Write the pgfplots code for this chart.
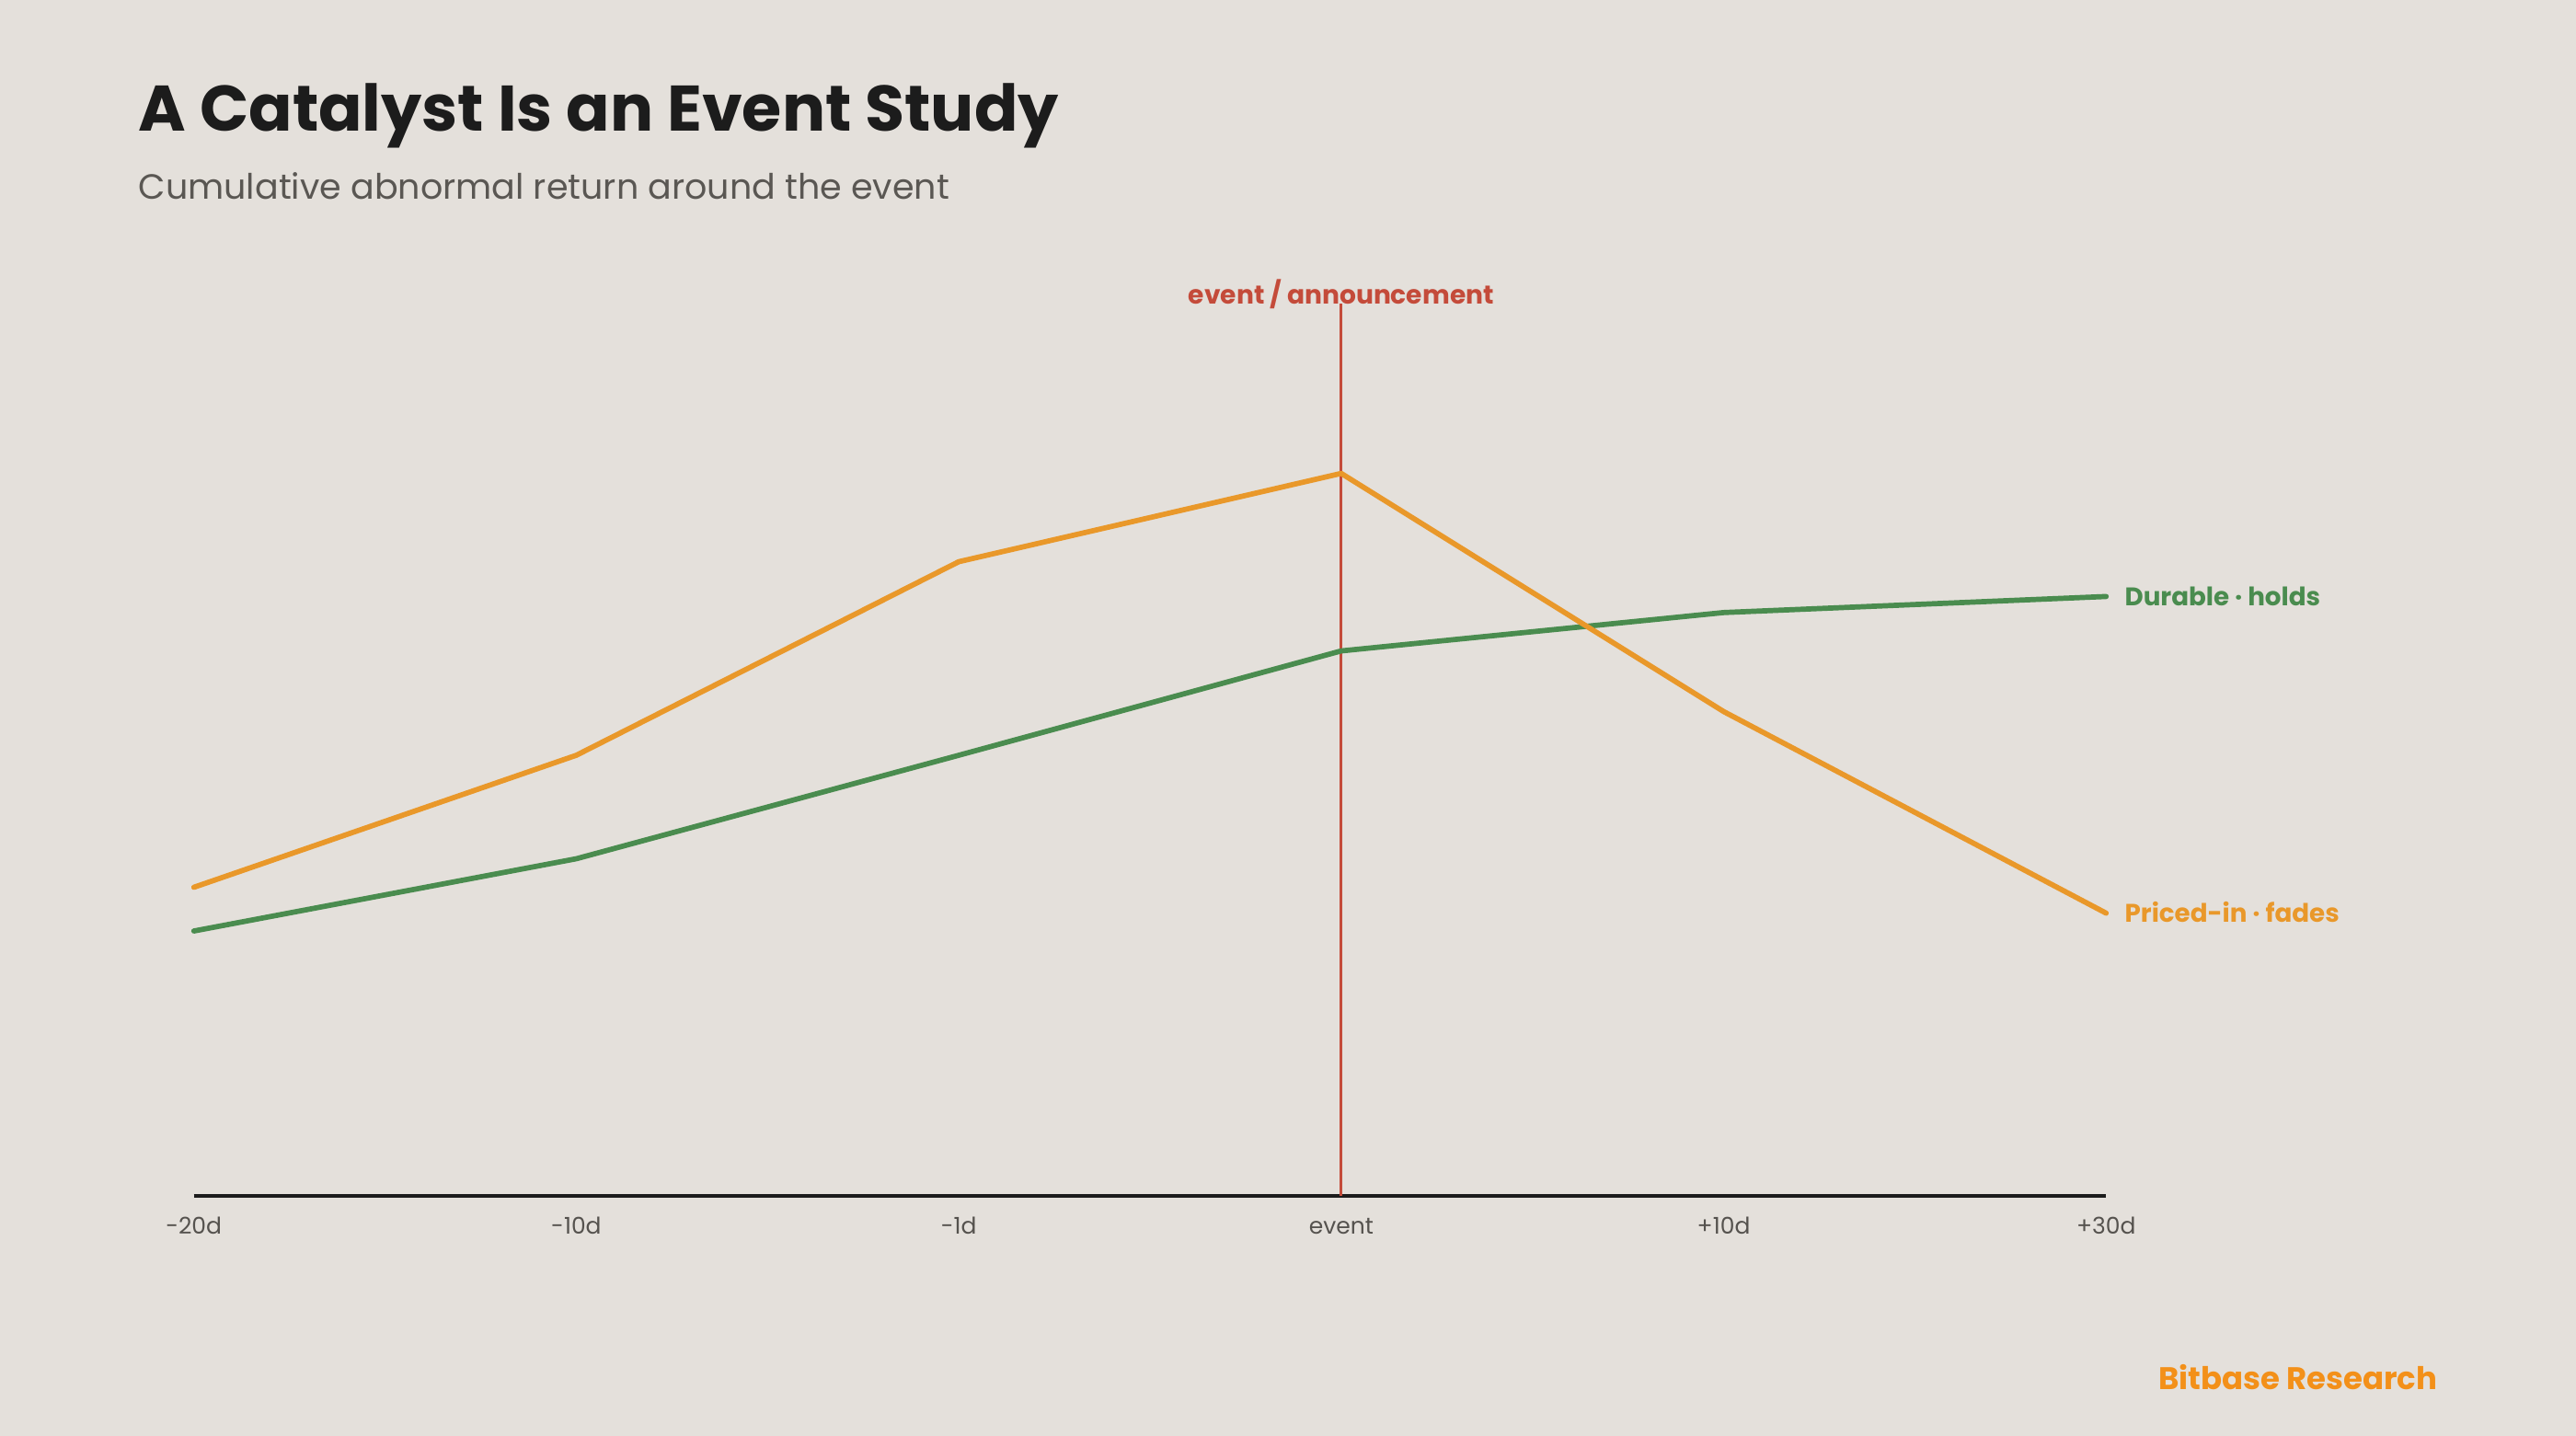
\documentclass[border=0pt]{standalone}
\usepackage{pgfplots}
\pgfplotsset{compat=1.18}
\usepackage{fontspec}
\setmainfont{Poppins}

\definecolor{bg}{HTML}{E4E0DB}
\definecolor{ink}{HTML}{1C1C1C}
\definecolor{subgray}{HTML}{5A5753}
\definecolor{tickgray}{HTML}{55524E}
\definecolor{fadeorange}{HTML}{E9982A}
\definecolor{holdgreen}{HTML}{4A8C4F}
\definecolor{eventred}{HTML}{C44B3A}
\definecolor{brand}{HTML}{F39019}

\begin{document}
\begin{tikzpicture}[x=0.5pt,y=0.5pt]
% canvas
\fill[bg] (0,0) rectangle (1568,-874);

% headings
\node[anchor=base west, inner sep=0, text=ink,
      font=\bfseries\fontsize{19.6}{24}\selectfont] at (84,-80) {A Catalyst Is an Event Study};
\node[anchor=base west, inner sep=0, text=subgray,
      font=\fontsize{10.65}{13}\selectfont] at (84,-121) {Cumulative abnormal return around the event};
\node[anchor=base east, inner sep=0, text=brand,
      font=\bfseries\fontsize{9.5}{11}\selectfont] at (1484,-846) {Bitbase Research};

\begin{axis}[
  at={(59pt,-364pt)}, anchor=south west,
  scale only axis, width=582pt, height=271.5pt,
  xmin=0, xmax=5, ymin=0, ymax=10,
  clip=false,
  axis x line*=bottom, axis y line=none,
  x axis line style={ink, line width=1.1pt, -},
  xtick={0,1,2,3,4,5},
  xticklabels={-20d,-10d,-1d,event,+10d,+30d},
  major tick length=0pt,
  xticklabel style={anchor=base, yshift=-11.5pt, inner sep=0,
                    text=tickgray, font=\fontsize{7}{8}\selectfont},
  ytick=\empty,
  every axis plot/.append style={line join=round, line cap=round},
]
% event marker
\draw[eventred, line width=0.9pt] (axis cs:3,0) -- (axis cs:3,10);
\node[anchor=base, inner sep=0, text=eventred,
      font=\bfseries\fontsize{7.87}{10}\selectfont] at (axis cs:3,10) {event / announcement};

% durable reaction
\addplot[holdgreen, line width=1.6pt] coordinates {
  (0,2.97) (1,3.78) (2,4.94) (3,6.11) (4,6.54) (5,6.72)};
% priced-in reaction
\addplot[fadeorange, line width=1.6pt] coordinates {
  (0,3.46) (1,4.94) (2,7.11) (3,8.10) (4,5.43) (5,3.17)};

\node[anchor=mid west, xshift=5.5pt, inner sep=0, text=holdgreen,
      font=\bfseries\fontsize{7.76}{10}\selectfont] at (axis cs:5,6.72) {Durable · holds};
\node[anchor=mid west, xshift=5.5pt, inner sep=0, text=fadeorange,
      font=\bfseries\fontsize{7.76}{10}\selectfont] at (axis cs:5,3.17) {Priced-in · fades};
\end{axis}
\end{tikzpicture}
\end{document}
